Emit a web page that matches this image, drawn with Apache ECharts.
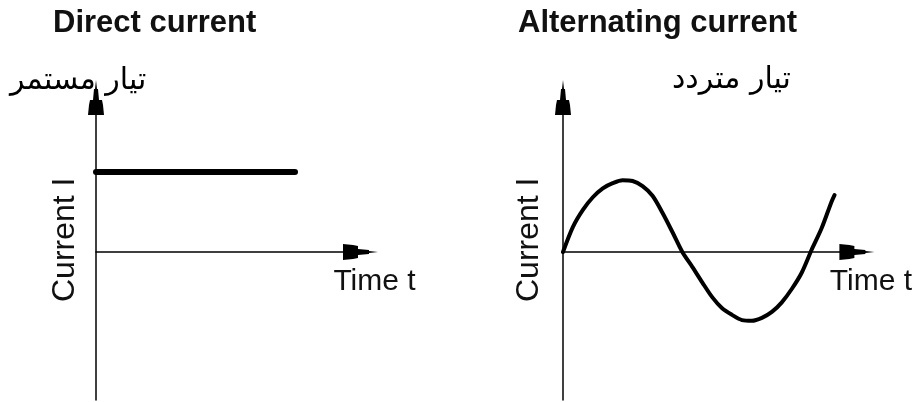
<!DOCTYPE html>
<html>
<head>
<meta charset="utf-8">
<script src="https://cdn.jsdelivr.net/npm/echarts@6/dist/echarts.min.js"></script>
<style>
  html, body { margin: 0; padding: 0; background: #fff; }
  #chart { width: 915px; height: 402px; }
</style>
</head>
<body>
<div id="chart"></div>
<script>
// DC panel: constant current over time
const dcTime = [0, 19.9];
const dcCurrent = [1.08, 1.08];

// AC panel: points (1 time unit ~ 10px)
const acTime = [0, 1, 2, 3, 4, 5, 6, 7, 8, 9, 10, 11, 12, 13, 14, 15, 16, 17, 18, 19, 20, 21, 22, 23, 24, 25, 26, 27, 27.3];
const acCurrent = [0, 0.34, 0.57, 0.74, 0.86, 0.93, 0.97, 0.96, 0.89, 0.76, 0.53, 0.27, 0, -0.20, -0.41, -0.61, -0.76, -0.85, -0.92, -0.93, -0.89, -0.81, -0.68, -0.50, -0.28, 0.03, 0.32, 0.68, 0.77];

const titles = ['Direct current', 'Alternating current'];
const arabicTitles = ['تيار مستمر', 'تيار متردد'];
const xName = 'Time t';
const yName = 'Current I';

// stepped arrow head like the scanned figure
const arrowPath = 'path://M8,0 L9,9 L10,9 L11,20 L14,20 L15,25 L16,35 L0,35 L1,25 L2,20 L5,20 L6,9 L7,9 Z';

const chart = echarts.init(document.getElementById('chart'));

const axisLine = {
  show: true,
  onZero: true,
  symbol: ['none', arrowPath],
  symbolSize: [16, 35],
  lineStyle: { color: '#000', width: 1.5 }
};

const makeX = (idx, max) => ({
  type: 'value',
  gridIndex: idx,
  min: 0,
  max: max,
  axisLine: axisLine,
  axisTick: { show: false },
  axisLabel: { show: false },
  splitLine: { show: false },
  name: xName,
  nameLocation: 'end',
  nameGap: 14,
  nameTextStyle: {
    align: 'center', verticalAlign: 'top', padding: [15, 0, 0, 0],
    fontSize: 30, fontFamily: 'Liberation Sans', color: '#111'
  }
});

const makeY = (idx, gap) => ({
  type: 'value',
  gridIndex: idx,
  min: -2,
  max: 2.088,
  axisLine: axisLine,
  axisTick: { show: false },
  axisLabel: { show: false },
  splitLine: { show: false },
  name: yName,
  nameLocation: 'middle',
  nameRotate: 90,
  nameGap: gap,
  nameTextStyle: {
    padding: [0, 0, 0, 18],
    fontSize: 32, fontFamily: 'Liberation Sans', color: '#111'
  }
});

const titleFont = { fontSize: 31, fontWeight: 'bold', fontFamily: 'Liberation Sans', color: '#111' };
const arabicFont = { fontSize: 30, fontWeight: 'normal', fontFamily: 'DejaVu Sans', color: '#000' };

const option = {
  backgroundColor: '#fff',
  animation: false,
  title: [
    { text: titles[0], left: 53, top: 8, padding: 0, textStyle: titleFont },
    { text: titles[1], left: 518, top: 8, padding: 0, textStyle: titleFont },
    { text: arabicTitles[0], left: 10, top: 66, padding: 0, textStyle: arabicFont },
    { text: arabicTitles[1], left: 672, top: 65, padding: 0, textStyle: arabicFont }
  ],
  grid: [
    { left: 96, top: 97.5, width: 264.5, height: 302.5 },
    { left: 563, top: 97.5, width: 295.5, height: 302.5 }
  ],
  xAxis: [makeX(0, 26.45), makeX(1, 29.55)],
  yAxis: [makeY(0, 15), makeY(1, 18)],
  series: [
    {
      type: 'line',
      xAxisIndex: 0,
      yAxisIndex: 0,
      data: dcTime.map((t, i) => [t, dcCurrent[i]]),
      showSymbol: false,
      lineStyle: { color: '#000', width: 6, cap: 'round' }
    },
    {
      type: 'line',
      xAxisIndex: 1,
      yAxisIndex: 1,
      data: acTime.map((t, i) => [t, acCurrent[i]]),
      showSymbol: false,
      smooth: 0.3,
      lineStyle: { color: '#000', width: 4, cap: 'round', join: 'round' }
    }
  ]
};

chart.setOption(option);
</script>
</body>
</html>
